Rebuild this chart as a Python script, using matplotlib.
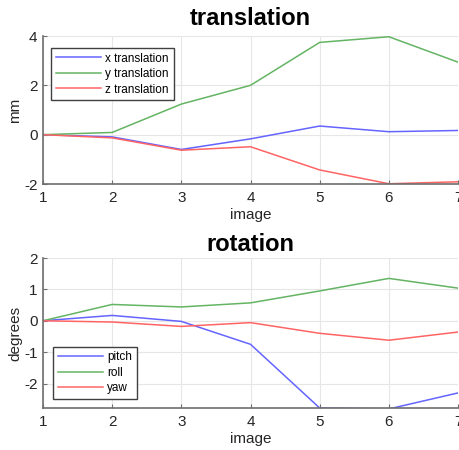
import numpy as np
import matplotlib
matplotlib.use("Agg")
import matplotlib.pyplot as plt

# datos
image = [1, 2, 3, 4, 5, 6, 7]
x_trans = [0, -0.09, -0.60, -0.17, 0.35, 0.12, 0.17]
y_trans = [0, 0.09, 1.24, 2.00, 3.74, 3.97, 2.94]
z_trans = [0, -0.13, -0.63, -0.49, -1.43, -1.99, -1.91]

pitch = [0, 0.17, -0.02, -0.75, -2.78, -2.81, -2.30]
roll = [0, 0.52, 0.44, 0.57, 0.95, 1.35, 1.04]
yaw = [0, -0.04, -0.18, -0.06, -0.40, -0.62, -0.36]

c_blue = "#6464ff"
c_green = "#64b464"
c_red = "#ff6464"

plt.rcParams['font.family'] = ['Liberation Sans', 'DejaVu Sans']
plt.rcParams['axes.unicode_minus'] = False

fig = plt.figure(figsize=(4.59, 4.5), dpi=100)

def estilo(ax, yticks, ylim, ylabel, title, tpad):
    ax.set_xlim(1, 7)
    ax.set_ylim(*ylim)
    ax.set_xticks(image)
    ax.set_yticks(yticks)
    ax.grid(True, color="#e6e6e6", linewidth=0.8)
    ax.set_axisbelow(True)
    for s in ["top", "right"]:
        ax.spines[s].set_visible(False)
    for s in ["left", "bottom"]:
        ax.spines[s].set_color("#6e6e6e")
        ax.spines[s].set_linewidth(1.2)
    ax.tick_params(direction="in", length=3, color="#6e6e6e", labelsize=11,
                   labelcolor="#262626", pad=4)
    ax.tick_params(axis="x", pad=5)
    ax.set_xlabel("image", fontsize=11, color="#262626", labelpad=2)
    ax.set_ylabel(ylabel, fontsize=11, color="#262626")
    ax.yaxis.set_label_coords(-0.05, 0.5)
    ax.set_title(title, fontsize=17, fontweight="bold", pad=tpad)

def leyenda(ax, loc, anchor):
    leg = ax.legend(loc=loc, fontsize=8.5, fancybox=False, framealpha=1,
                    edgecolor="#404040", handlelength=3.8, handletextpad=0.4,
                    labelspacing=0.3, borderaxespad=0.5, bbox_to_anchor=anchor)
    leg.get_frame().set_linewidth(1.0)
    return leg

# traslacion
ax1 = fig.add_axes([43/459, 1-184/450, 415/459, 148/450])
ax1.plot(image, x_trans, color=c_blue, lw=1.1, label="x translation")
ax1.plot(image, y_trans, color=c_green, lw=1.1, label="y translation")
ax1.plot(image, z_trans, color=c_red, lw=1.1, label="z translation")
estilo(ax1, [-2, 0, 2, 4], (-2, 4), "mm", "translation", 8)
leyenda(ax1, "upper left", (0.005, 0.96))

# rotacion
ax2 = fig.add_axes([43/459, 1-408/450, 415/459, 150/450])
ax2.plot(image, pitch, color=c_blue, lw=1.1, label="pitch")
ax2.plot(image, roll, color=c_green, lw=1.1, label="roll")
ax2.plot(image, yaw, color=c_red, lw=1.1, label="yaw")
estilo(ax2, [-2, -1, 0, 1, 2], (-2.78, 2), "degrees", "rotation", 5)
leyenda(ax2, "lower left", (0.01, 0.02))

plt.savefig("out.png", dpi=100)
